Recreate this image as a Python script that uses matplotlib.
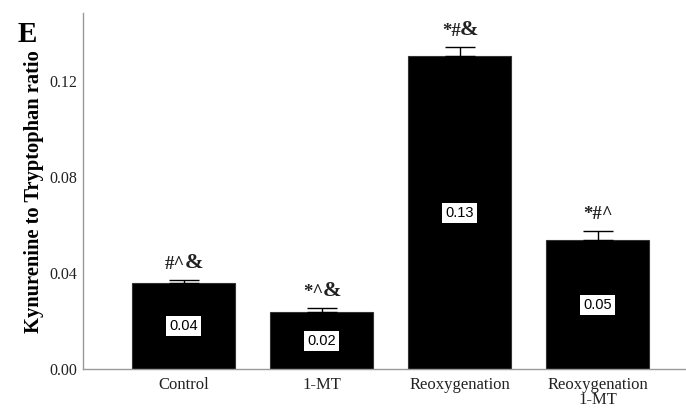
import matplotlib
matplotlib.use("Agg")
import matplotlib.pyplot as plt

categories = ["Control", "1-MT", "Reoxygenation", "Reoxygenation\n1-MT"]
means = [0.0358, 0.0236, 0.1300, 0.0535]
errors = [0.0012, 0.0016, 0.0040, 0.0041]
value_labels = ["0.04", "0.02", "0.13", "0.05"]
sig_normal = ["#^", "*^", "*#", "*#^"]
sig_bold = ["&", "&", "&", ""]
yticks = [0.00, 0.04, 0.08, 0.12]

plt.rcParams["font.family"] = ["Liberation Serif", "DejaVu Serif"]

fig = plt.figure(figsize=(6.86, 4.08), dpi=100)
ax = fig.add_axes([0.121, 0.0956, 0.879, 0.872])

x = list(range(len(categories)))
ax.bar(x, means, width=0.746, color="black", edgecolor="#333333", linewidth=0.8, zorder=2)
ax.errorbar(x, means, yerr=[[0]*len(errors), errors], fmt="none", ecolor="black",
            elinewidth=1.0, capsize=11, capthick=1.0, zorder=3)

fig.canvas.draw()
r = fig.canvas.get_renderer()
NS, BS = 13.5, 16
for xi, m, e, vl, sn, sb in zip(x, means, errors, value_labels, sig_normal, sig_bold):
    ax.text(xi, m / 2, vl, ha="center", va="center", fontsize=10.5,
            family=["Liberation Sans", "DejaVu Sans"], color="black", zorder=4,
            bbox=dict(boxstyle="square,pad=0.2", facecolor="white", edgecolor="none"))
    y = m + e + 0.0030
    tn = ax.text(0, 0, sn, fontsize=NS, fontweight="bold")
    tb = ax.text(0, 0, sb, fontsize=BS, fontweight="bold")
    wn = tn.get_window_extent(r).width
    wb = tb.get_window_extent(r).width if sb else 0
    tn.remove(); tb.remove()
    total = wn + wb
    xd = ax.transData.transform((xi, y))
    inv = ax.transData.inverted()
    xs = inv.transform((xd[0] - total / 2, xd[1]))[0]
    ax.text(xs, y, sn, ha="left", va="bottom", fontsize=NS, fontweight="bold", color="#222222")
    if sb:
        xb = inv.transform((xd[0] - total / 2 + wn, xd[1]))[0]
        ax.text(xb, y, sb, ha="left", va="bottom", fontsize=BS, fontweight="bold", color="#222222")

ax.set_xlim(-0.728, 3.64)
ax.set_ylim(0, 0.148)
ax.set_yticks(yticks)
ax.set_yticklabels([f"{v:.2f}" for v in yticks], fontsize=11.5, color="#222222")
ax.set_xticks(x)
ax.set_xticklabels(categories, fontsize=12, color="#222222", linespacing=0.9)
ax.tick_params(axis="x", length=0, pad=6)
ax.tick_params(axis="y", length=0, pad=4)
for s in ["top", "right"]:
    ax.spines[s].set_visible(False)
for s in ["left", "bottom"]:
    ax.spines[s].set_color("#999999")
    ax.spines[s].set_linewidth(1.0)

ax.set_ylabel("Kynurenine to Tryptophan ratio", fontsize=14.8, fontweight="bold")
ax.yaxis.set_label_coords(-0.064, 0.5)
fig.text(0.025, 1 - 42 / 408, "E", fontsize=21, fontweight="bold", ha="left", va="baseline")

fig.savefig("out.png", dpi=100)
